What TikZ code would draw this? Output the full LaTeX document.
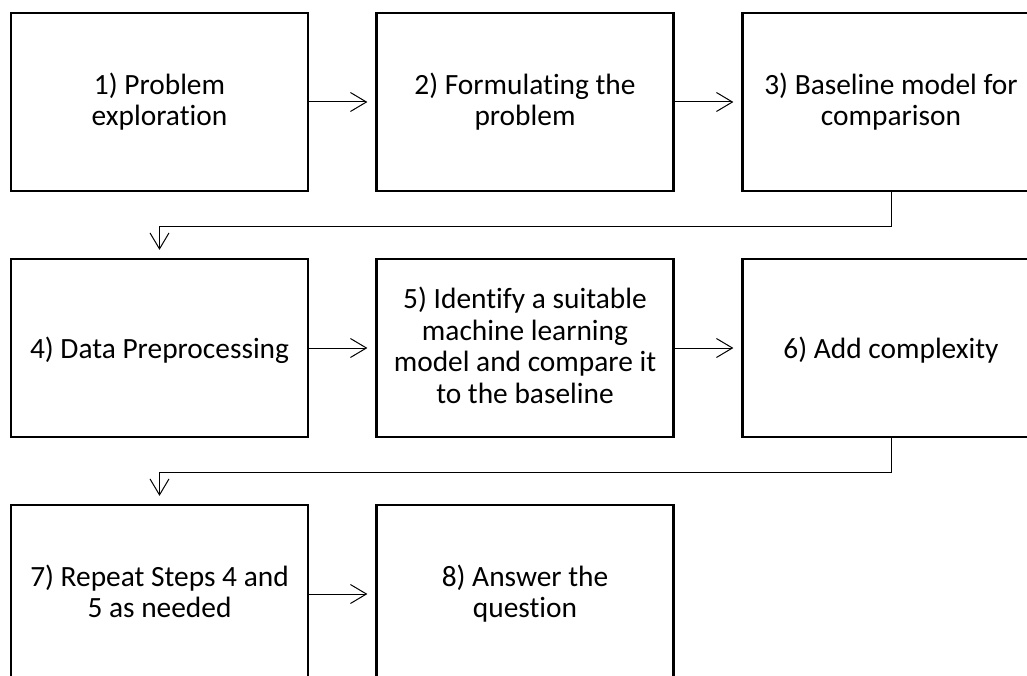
\documentclass[tikz,border=0pt]{standalone}
\usepackage{fontspec}
\setmainfont{Carlito}[Ligatures={NoCommon}]
\usetikzlibrary{arrows.meta}
% fixed-size strut so every label is centred the same way
\newcommand{\labelstrut}{\rule[-5.6bp]{0pt}{32bp}}
\tikzset{
  stepbox/.style={draw=black, line width=2.2bp, minimum width=297bp, minimum height=178bp,
    inner sep=0pt, align=center, font=\fontsize{29.5}{32}\selectfont,
    execute at begin node=\labelstrut, execute at end node=\labelstrut},
  link/.style={draw=black, line width=1bp,
    -{Straight Barb[length=16bp, width=19bp, line width=1bp]}, shorten >=8bp},
}
\begin{document}
\begin{tikzpicture}[x=1bp, y=-1bp]
  \useasboundingbox (0,0) rectangle (1027,676);
  % first row
  \node[stepbox] (s1) at (159.5,102) {1) Problem\\exploration};
  \node[stepbox] (s2) at (525,102) {2) Formulating the\\problem};
  \node[stepbox] (s3) at (891,102) {3) Baseline model for\\comparison};
  % second row
  \node[stepbox] (s4) at (159.5,348) {4) Data Preprocessing};
  \node[stepbox] (s5) at (525,348) {5) Identify a suitable\\machine learning\\model and compare it\\to the baseline};
  \node[stepbox] (s6) at (891,348) {6) Add complexity};
  % third row
  \node[stepbox] (s7) at (159.5,594) {7) Repeat Steps 4 and\\5 as needed};
  \node[stepbox] (s8) at (525,594) {8) Answer the\\question};
  % connectors
  \draw[link] (s1) -- (s2);
  \draw[link] (s2) -- (s3);
  \draw[link] (s4) -- (s5);
  \draw[link] (s5) -- (s6);
  \draw[link] (s7) -- (s8);
  \draw[link] (s3.south) -- ++(0,34) -| (s4.north);
  \draw[link] (s6.south) -- ++(0,34) -| (s7.north);
\end{tikzpicture}
\end{document}
